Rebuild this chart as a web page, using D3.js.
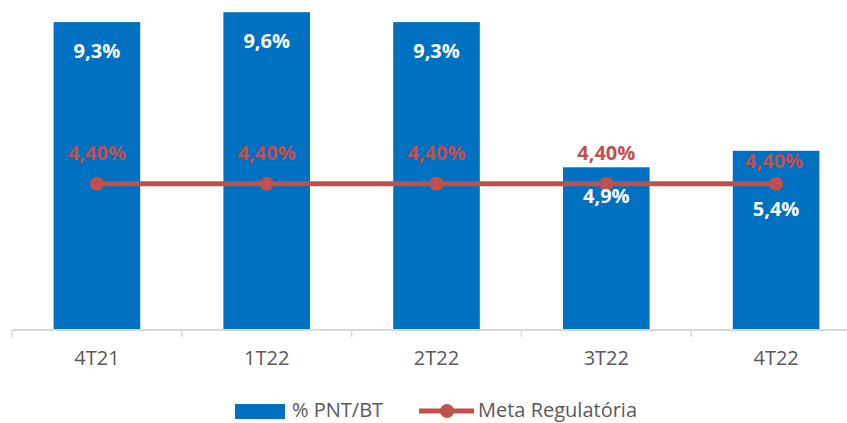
<!DOCTYPE html>
<html>
<head>
<meta charset="utf-8">
<script src="https://cdn.jsdelivr.net/npm/d3@7"></script>
<style>
  body { margin: 0; background: #fff; }
  text { font-family: 'Open Sans', sans-serif; }
</style>
</head>
<body>
<script>
// data
const categories = ['4T21', '1T22', '2T22', '3T22', '4T22']
const pntBt = [9.3, 9.6, 9.3, 4.9, 5.4]
const meta = [4.4, 4.4, 4.4, 4.4, 4.4]
const pntLabels = ['9,3%', '9,6%', '9,3%', '4,9%', '5,4%']
const metaLabels = ['4,40%', '4,40%', '4,40%', '4,40%', '4,40%']

const width = 847
const height = 423
const blue = '#0070C0'
const red = '#C0504D'

const svg = d3.select('body')
  .append('svg')
  .attr('width', width)
  .attr('height', height)

const x = d3.scaleBand()
  .domain(categories)
  .range([12, 861])
  .paddingInner(0.49)
  .paddingOuter(0.245)

const y = d3.scaleLinear()
  .domain([0, 10])
  .range([329, -1])

const cx = d => x(d) + x.bandwidth() / 2

// bars
svg.append('g')
  .selectAll('rect')
  .data(categories)
  .join('rect')
    .attr('x', d => x(d))
    .attr('width', x.bandwidth())
    .attr('y', (d, i) => y(pntBt[i]))
    .attr('height', (d, i) => y(0) - y(pntBt[i]))
    .attr('fill', blue)

// category axis
const axis = svg.append('g').attr('transform', `translate(0, ${y(0) + 1})`)
axis.append('line')
  .attr('x1', x.range()[0]).attr('x2', x.range()[1])
  .attr('stroke', '#d9d9d9').attr('stroke-width', 2)
const bounds = categories.map(d => cx(d) - x.step() / 2).concat([cx(categories[4]) + x.step() / 2])
axis.selectAll('line.tick')
  .data(bounds)
  .join('line')
    .attr('class', 'tick')
    .attr('x1', d => d).attr('x2', d => d)
    .attr('y1', 0).attr('y2', 7)
    .attr('stroke', '#d9d9d9').attr('stroke-width', 1.5)

const labelAxis = svg.append('g')
  .attr('transform', `translate(0, ${y(0)})`)
  .call(d3.axisBottom(x).tickSize(0).tickPadding(22))
labelAxis.select('.domain').remove()
labelAxis.selectAll('text')
  .attr('font-family', "'Open Sans', sans-serif")
  .attr('font-size', 20)
  .attr('fill', '#595959')

// line series
const line = d3.line()
  .x((d, i) => cx(categories[i]))
  .y(d => y(d))

svg.append('path')
  .datum(meta)
  .attr('d', line)
  .attr('fill', 'none')
  .attr('stroke', red)
  .attr('stroke-width', 5)

svg.append('g')
  .selectAll('circle')
  .data(meta)
  .join('circle')
    .attr('cx', (d, i) => cx(categories[i]))
    .attr('cy', d => y(d))
    .attr('r', 7)
    .attr('fill', red)

// bar labels
svg.append('g')
  .selectAll('text')
  .data(pntBt)
  .join('text')
    .attr('x', (d, i) => cx(categories[i]))
    .attr('y', (d, i) => y(d) + (i === 4 ? 65 : 36))
    .attr('text-anchor', 'middle')
    .attr('font-size', 20)
    .attr('font-weight', 700)
    .attr('fill', '#fff')
    .text((d, i) => pntLabels[i])

// line labels
svg.append('g')
  .selectAll('text')
  .data(meta)
  .join('text')
    .attr('x', (d, i) => cx(categories[i]) - (i === 4 ? 2 : 0))
    .attr('y', (d, i) => y(d) - (i === 4 ? 16 : 24))
    .attr('text-anchor', 'middle')
    .attr('font-size', 20)
    .attr('font-weight', 700)
    .attr('fill', red)
    .text((d, i) => metaLabels[i])

// legend
const legend = svg.append('g')
legend.append('rect')
  .attr('x', 235).attr('y', 404)
  .attr('width', 50).attr('height', 15)
  .attr('fill', blue)
legend.append('text')
  .attr('x', 292).attr('y', 417)
  .attr('font-size', 20).attr('fill', '#595959')
  .text('% PNT/BT')
legend.append('line')
  .attr('x1', 419).attr('x2', 474)
  .attr('y1', 411).attr('y2', 411)
  .attr('stroke', red).attr('stroke-width', 5)
legend.append('circle')
  .attr('cx', 447).attr('cy', 411).attr('r', 7)
  .attr('fill', red)
legend.append('text')
  .attr('x', 478).attr('y', 417)
  .attr('font-size', 20).attr('fill', '#595959')
  .text('Meta Regulatória')
</script>
</body>
</html>
